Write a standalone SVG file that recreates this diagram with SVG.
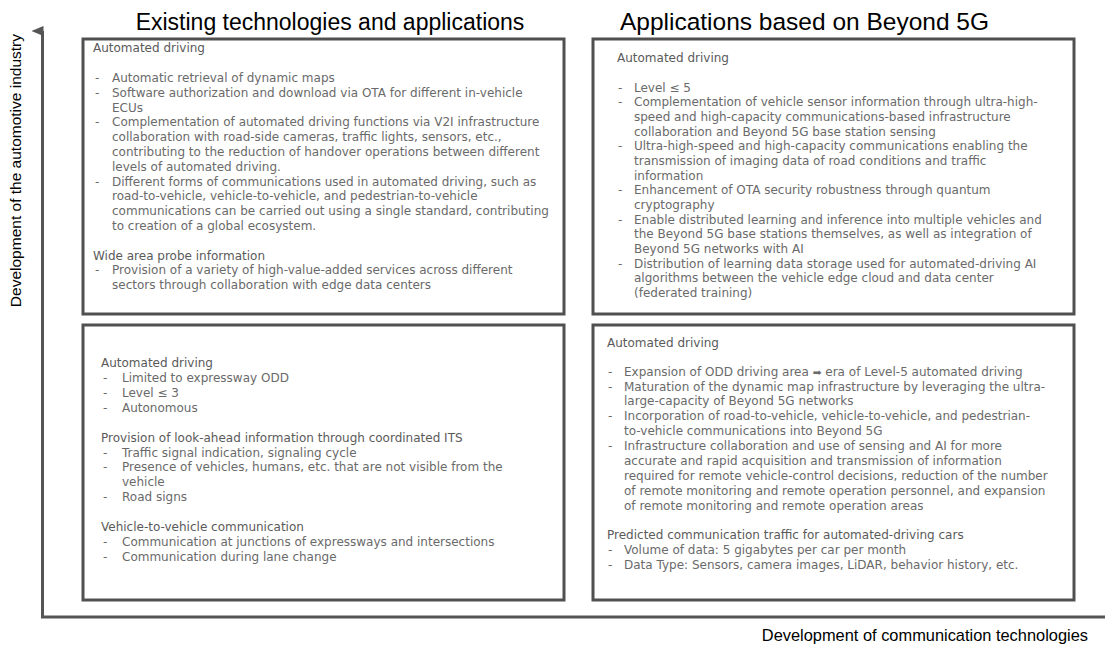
<svg xmlns="http://www.w3.org/2000/svg" width="1105" height="645" viewBox="0 0 1105 645">
<style>
.box{fill:#ffffff;stroke:#505050;stroke-width:3}
.axis{stroke:#555555;stroke-width:3;fill:none}
.title{font-family:"Liberation Sans",Arial,sans-serif;font-size:23px;fill:#000000;text-anchor:middle}
.axlabel{font-family:"Liberation Sans",Arial,sans-serif;font-size:15.5px;fill:#000000}
.body{font-family:"DejaVu Sans","Open Sans",sans-serif;font-size:12px;fill:#6a6a6a}
.hd{fill:#5a5a5a}
.arr{font-family:"DejaVu Sans",sans-serif;font-size:10.5px}
</style>
<defs>
<marker id="ah" markerWidth="10" markerHeight="12" refX="5" refY="11" orient="auto-start-reverse" markerUnits="userSpaceOnUse" viewBox="0 0 10 12">
<path d="M0,12 L5,0 L10,12 Z" fill="#555555"/>
</marker>
</defs>
<rect width="1105" height="645" fill="#ffffff"/>

<g id="connectors">
<line class="axis" x1="42.5" y1="617" x2="42.5" y2="31" marker-end="url(#ah)"/>
<line class="axis" x1="41" y1="617" x2="1105" y2="617"/>
</g>

<g id="axis-labels">
<text class="axlabel" transform="translate(21,34) rotate(-90)" text-anchor="end">Development of the automotive industry</text>
<text class="axlabel" x="1088" y="641" text-anchor="end" style="font-size:16.4px">Development of communication technologies</text>
</g>

<g id="titles">
<text class="title" x="330" y="30">Existing technologies and applications</text>
<text class="title" x="804.5" y="30" style="font-size:24.5px">Applications based on Beyond 5G</text>
</g>

<g id="existing-top">
<rect class="box" x="83" y="39" width="481" height="275"/>
<g class="body">
<text class="hd" x="93" y="52">Automated driving</text>
<text x="95" y="82">-</text><text x="112" y="82">Automatic retrieval of dynamic maps</text>
<text x="95" y="96.8">-</text><text x="112" y="96.8">Software authorization and download via OTA for different in-vehicle</text>
<text x="112" y="111.6">ECUs</text>
<text x="95" y="126.4">-</text><text x="112" y="126.4">Complementation of automated driving functions via V2I infrastructure</text>
<text x="112" y="141.2">collaboration with road-side cameras, traffic lights, sensors, etc.,</text>
<text x="112" y="156">contributing to the reduction of handover operations between different</text>
<text x="112" y="170.8">levels of automated driving.</text>
<text x="95" y="185.6">-</text><text x="112" y="185.6">Different forms of communications used in automated driving, such as</text>
<text x="112" y="200.4">road-to-vehicle, vehicle-to-vehicle, and pedestrian-to-vehicle</text>
<text x="112" y="215.2">communications can be carried out using a single standard, contributing</text>
<text x="112" y="230">to creation of a global ecosystem.</text>
<text class="hd" x="93" y="259.6">Wide area probe information</text>
<text x="95" y="274.4">-</text><text x="112" y="274.4">Provision of a variety of high-value-added services across different</text>
<text x="112" y="289.2">sectors through collaboration with edge data centers</text>
</g>
</g>

<g id="beyond5g-top">
<rect class="box" x="593" y="39" width="481" height="275"/>
<g class="body">
<text class="hd" x="617" y="62.3">Automated driving</text>
<text x="618" y="91.7">-</text><text x="634" y="91.7">Level ≤ 5</text>
<text x="618" y="106.4">-</text><text x="634" y="106.4">Complementation of vehicle sensor information through ultra-high-</text>
<text x="634" y="121">speed and high-capacity communications-based infrastructure</text>
<text x="634" y="135.7">collaboration and  Beyond 5G base station sensing</text>
<text x="618" y="150.3">-</text><text x="634" y="150.3">Ultra-high-speed and high-capacity communications enabling the</text>
<text x="634" y="165">transmission of imaging data of road conditions and traffic</text>
<text x="634" y="179.6">information</text>
<text x="618" y="194.3">-</text><text x="634" y="194.3">Enhancement of OTA security robustness through quantum</text>
<text x="634" y="208.9">cryptography</text>
<text x="618" y="223.6">-</text><text x="634" y="223.6">Enable distributed learning and inference into multiple vehicles and</text>
<text x="634" y="238.2">the Beyond 5G base stations themselves, as well as integration of</text>
<text x="634" y="252.9">Beyond 5G networks with AI</text>
<text x="618" y="267.5">-</text><text x="634" y="267.5">Distribution of learning data storage used for automated-driving AI</text>
<text x="634" y="282.2">algorithms between the vehicle edge cloud and data center</text>
<text x="634" y="296.8">(federated training)</text>
</g>
</g>

<g id="existing-bottom">
<rect class="box" x="83" y="325" width="481" height="275"/>
<g class="body">
<text class="hd" x="101" y="367.3">Automated driving</text>
<text x="103" y="382.2">-</text><text x="122" y="382.2">Limited to expressway ODD</text>
<text x="103" y="397">-</text><text x="122" y="397">Level ≤ 3</text>
<text x="103" y="411.9">-</text><text x="122" y="411.9">Autonomous</text>
<text class="hd" x="101" y="441.6">Provision of look-ahead information through coordinated ITS</text>
<text x="103" y="456.5">-</text><text x="122" y="456.5">Traffic signal indication, signaling cycle</text>
<text x="103" y="471.4">-</text><text x="122" y="471.4">Presence of vehicles, humans, etc. that are not visible from the</text>
<text x="122" y="486.3">vehicle</text>
<text x="103" y="501.1">-</text><text x="122" y="501.1">Road signs</text>
<text class="hd" x="101" y="530.9">Vehicle-to-vehicle communication</text>
<text x="103" y="545.8">-</text><text x="122" y="545.8">Communication at junctions of expressways and intersections</text>
<text x="103" y="560.7">-</text><text x="122" y="560.7">Communication during lane change</text>
</g>
</g>

<g id="beyond5g-bottom">
<rect class="box" x="593" y="325" width="481" height="275"/>
<g class="body">
<text class="hd" x="607" y="347.3">Automated driving</text>
<text x="608" y="375.7">-</text><text x="624" y="375.7">Expansion of ODD driving area <tspan class="arr">➡</tspan> era of Level-5 automated driving</text>
<text x="608" y="390.6">-</text><text x="624" y="390.6">Maturation of the dynamic map infrastructure by leveraging the ultra-</text>
<text x="624" y="405.4">large-capacity of Beyond 5G networks</text>
<text x="608" y="420.3">-</text><text x="624" y="420.3">Incorporation of road-to-vehicle, vehicle-to-vehicle, and pedestrian-</text>
<text x="624" y="435.2">to-vehicle communications into Beyond 5G</text>
<text x="608" y="450.1">-</text><text x="624" y="450.1">Infrastructure collaboration and use of sensing and AI for more</text>
<text x="624" y="464.9">accurate and rapid acquisition and transmission of information</text>
<text x="624" y="479.8">required for remote vehicle-control decisions, reduction of the number</text>
<text x="624" y="494.7">of remote monitoring and remote operation personnel, and expansion</text>
<text x="624" y="509.6">of remote monitoring and remote operation areas</text>
<text class="hd" x="607" y="539.3">Predicted communication traffic for automated-driving cars</text>
<text x="608" y="554.2">-</text><text x="624" y="554.2">Volume of data: 5 gigabytes per car per month</text>
<text x="608" y="569">-</text><text x="624" y="569">Data Type: Sensors, camera images, LiDAR, behavior history, etc.</text>
</g>
</g>
</svg>
